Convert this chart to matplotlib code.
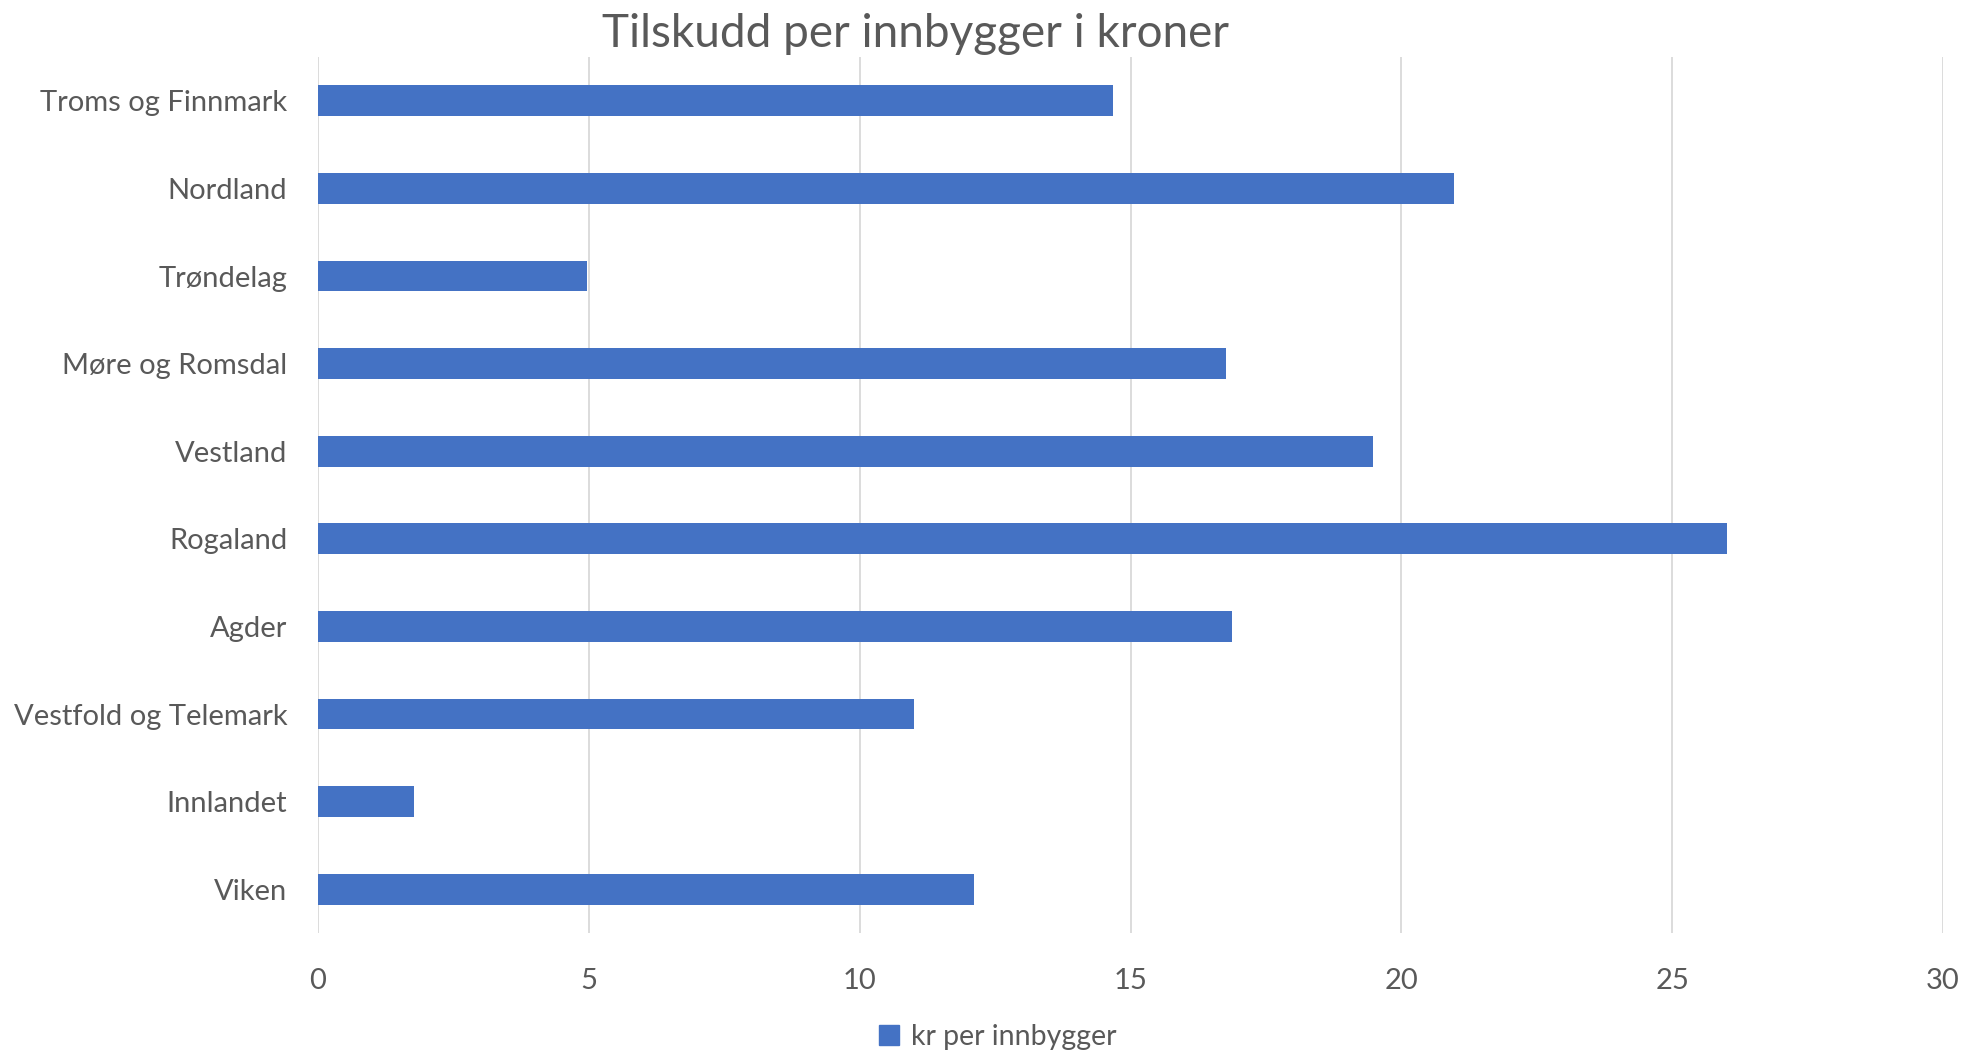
import matplotlib.pyplot as plt
from matplotlib.patches import Patch

regions = ["Troms og Finnmark", "Nordland", "Trøndelag", "Møre og Romsdal",
           "Vestland", "Rogaland", "Agder", "Vestfold og Telemark",
           "Innlandet", "Viken"]
kr_per_innbygger = [14.68, 20.98, 4.96, 16.77, 19.47, 26.02, 16.88, 11.0, 1.78, 12.11]
x_ticks = [0, 5, 10, 15, 20, 25, 30]

plt.rcParams["font.family"] = ["Lato", "DejaVu Sans"]
TXT = "#595959"
BLUE = "#4472C4"

fig = plt.figure(figsize=(19.64, 10.53), dpi=100)
ax = fig.add_axes([318 / 1964, 1 - 933 / 1053, (1943 - 318) / 1964, (933 - 57) / 1053])

ypos = list(range(len(regions)))[::-1]
ax.barh(ypos, kr_per_innbygger, height=0.35, color=BLUE, zorder=3)

ax.set_xlim(0, 30)
ax.set_ylim(-0.5, len(regions) - 0.5)
ax.set_xticks(x_ticks)
ax.set_yticks(ypos)
ax.set_yticklabels(regions)
ax.tick_params(axis="both", length=0, labelsize=21, colors=TXT)
ax.tick_params(axis="y", pad=22)
ax.tick_params(axis="x", pad=25)
ax.grid(axis="x", color="#D9D9D9", linewidth=1.3, zorder=0)
for s in ax.spines.values():
    s.set_visible(False)

# title sits a bit left of the figure centre in the original
fig.text(916 / 1964, 1 - 34 / 1053, "Tilskudd per innbygger i kroner",
         ha="center", va="center", fontsize=33, color=TXT)

fig.legend(handles=[Patch(color=BLUE, label="kr per innbygger")],
           loc="center", bbox_to_anchor=(0.508, 1 - 1037 / 1053),
           frameon=False, fontsize=20.5, labelcolor=TXT,
           handlelength=0.7, handleheight=0.7, handletextpad=0.4)

fig.savefig("out.png", dpi=100)
